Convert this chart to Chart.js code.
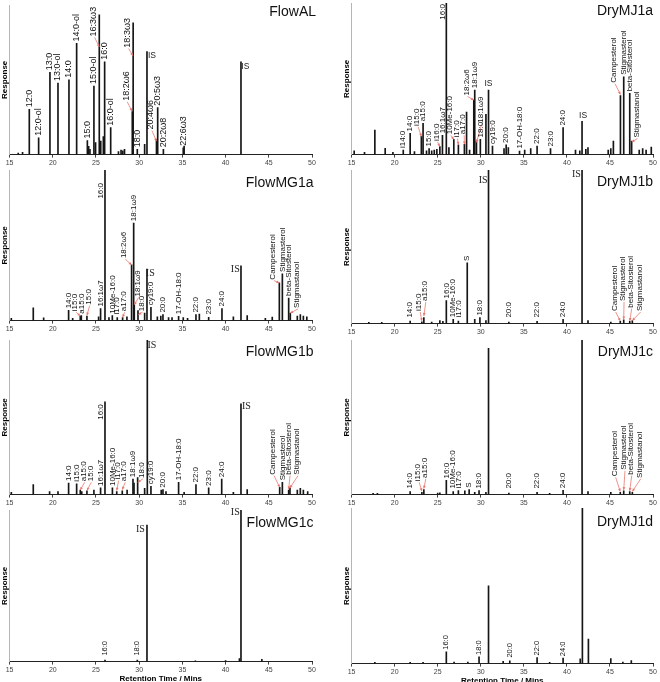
<!DOCTYPE html>
<html>
<head>
<meta charset="utf-8">
<script src="https://cdn.jsdelivr.net/npm/chart.js@4.4.1/dist/chart.umd.min.js"></script>
<style>
  html, body { margin: 0; padding: 0; background: #fff; width: 660px; height: 682px; overflow: hidden; }
  canvas { position: absolute; }
</style>
</head>
<body>
<script>
// Retention times (min) and responses (% of the panel height)
const alTimes = [16.0, 16.5, 17.28, 18.36, 19.67, 20.6, 21.87, 22.76, 24.0, 24.15, 24.3, 24.76, 24.95, 25.38, 25.55, 25.85, 26.0, 26.7, 27.6, 27.9, 28.1, 28.3, 29.2, 29.3, 29.78, 30.63, 30.9, 32.0, 32.14, 32.8, 35.1, 35.2, 41.78];
const alHeights = [1, 1.5, 30.3, 11.2, 55, 47.8, 50, 74.3, 9.4, 5.5, 3.5, 45.8, 8, 93.4, 9, 12, 62, 18, 2, 3, 2.5, 3.5, 28.7, 88, 3.5, 6.8, 68.9, 10, 31.4, 3.5, 4.5, 5.7, 62];

const mj1aTimes = [15.3, 16.5, 17.7, 18.9, 19.8, 21.0, 21.8, 22.3, 23.1, 23.3, 23.7, 24.0, 24.3, 24.6, 24.9, 25.25, 25.55, 26.0, 26.3, 26.87, 27.4, 28.1, 28.35, 28.7, 29.19, 29.3, 29.5, 29.95, 30.6, 30.9, 31.36, 32.7, 32.95, 33.2, 34.5, 35.1, 35.8, 36.54, 38.1, 39.56, 41.0, 41.5, 41.76, 42.2, 42.45, 44.8, 45.1, 45.4, 46.22, 46.6, 47.3, 47.52, 48.4, 48.8, 49.2, 49.8];
const mj1aHeights = [2.5, 1.5, 16.2, 4.2, 1.5, 3, 14, 2, 12, 20.6, 2.5, 4, 2.5, 3, 3.5, 5.3, 12.7, 100, 4.6, 10, 6.5, 6.8, 28, 3, 36, 42.5, 9, 10, 26.5, 42.5, 5.7, 4, 6.4, 4.6, 2.4, 3, 4, 5.7, 4, 17.8, 3, 2.5, 22, 3.5, 4.6, 3, 4, 9, 39, 51.3, 40.4, 9, 3, 4, 3, 5];

const mg1aTimes = [15.2, 17.74, 18.94, 21.83, 22.3, 23.18, 23.3, 23.95, 25.3, 25.53, 26.04, 26.5, 26.89, 27.46, 28.08, 28.58, 29.12, 29.36, 29.43, 29.86, 30.63, 30.9, 31.36, 32.1, 32.5, 32.75, 33.4, 33.8, 34.56, 35.1, 35.6, 36.57, 36.96, 38.04, 39.58, 40.9, 41.78, 42.5, 44.6, 45.4, 46.22, 46.57, 47.3, 47.49, 48.3, 48.65, 49.0, 49.4];
const mg1aHeights = [1.5, 8.4, 1.8, 6.8, 1.5, 3, 3.3, 3, 2.5, 8, 100, 2, 3.3, 2, 2, 2.5, 37, 64.7, 10.6, 6.6, 5, 34.2, 8.8, 2.5, 3, 4, 2, 2, 2.9, 2, 1.5, 4, 4.4, 2.2, 8, 2.5, 36.4, 3.3, 1.5, 2.4, 25, 31, 15, 5, 3, 4, 3, 2.5];

const mj1bTimes = [17.0, 18.5, 21.8, 23.16, 23.39, 24.3, 25.25, 25.6, 26.0, 26.8, 27.4, 28.43, 29.3, 29.9, 30.6, 30.9, 33.26, 36.54, 39.56, 41.76, 42.45, 45.1, 46.2, 46.6, 47.3, 47.6];
const mj1bHeights = [0.8, 0.8, 1.7, 1.2, 3.9, 1, 2, 1.5, 15, 2.8, 1.7, 39.5, 2.8, 3.9, 2, 100, 1, 1.5, 2.8, 100, 2, 1, 1.5, 2.5, 1.5, 2];

const mg1bTimes = [15.2, 17.74, 19.63, 20.6, 21.83, 22.76, 23.18, 23.35, 23.95, 24.76, 25.53, 26.04, 26.9, 27.4, 28.04, 28.6, 29.28, 29.4, 29.82, 30.63, 30.94, 31.36, 32.55, 32.75, 33.1, 34.56, 35.2, 36.57, 38.04, 39.55, 40.9, 41.78, 42.5, 46.26, 46.57, 47.3, 47.45, 48.3, 48.65, 49.0, 49.5];
const mg1bHeights = [1.5, 6.5, 2, 2, 7.5, 7, 3, 2, 2.5, 3, 4.3, 60, 4.3, 2, 2.5, 3, 10, 7.5, 11, 4, 100, 5.4, 3, 3.2, 2, 8, 1.5, 6.5, 4.3, 10, 1.5, 58.7, 3.2, 4.7, 8, 3, 4.3, 3, 4, 3, 2];

const mj1cTimes = [17.5, 18.0, 21.8, 23.16, 23.39, 25.0, 25.25, 26.0, 26.8, 27.4, 28.15, 28.65, 29.3, 29.8, 30.6, 30.9, 33.26, 36.54, 38.0, 39.56, 41.76, 42.45, 45.1, 46.2, 46.6, 47.3, 47.6];
const mj1cHeights = [0.8, 0.8, 2, 1.5, 3.2, 1, 1.2, 9.2, 2, 2.6, 2.5, 3.2, 1.5, 2.6, 1.5, 94.6, 1, 1.5, 0.8, 2.8, 100, 2, 1.5, 1.5, 2.5, 2, 1.5];

const mg1cTimes = [26.04, 29.78, 30.9, 36.5, 40.0, 41.6, 41.78, 44.2];
const mg1cHeights = [1, 1, 90, 0.5, 0.6, 2, 100, 1.5];

const mj1dTimes = [17.7, 21.8, 23.3, 26.0, 26.9, 28.5, 29.8, 30.9, 32.6, 33.37, 36.54, 38.0, 39.56, 41.55, 41.8, 42.5, 45.1, 46.5, 47.48];
const mj1dHeights = [0.8, 0.8, 0.8, 7.6, 1, 1, 4.3, 50, 1.5, 1.7, 3.9, 0.8, 3.5, 3, 100, 15.8, 3.2, 1, 2];

// Peak tags: [text, time] sits on the peak; [text, time, response] is placed there;
// [text, time, response, peakTime, peakResponse] also gets a red pointer to the peak
const alTags = [
  ['12:0', 17.28], ['12:0-ol', 18.36], ['13:0', 19.67], ['13:0-ol', 20.6], ['14:0', 21.87], ['14:0-ol', 22.76],
  ['15:0', 24.0], ['15:0-ol', 24.76], ['16:3ω3', 24.73, 79, 25.38, 72], ['16:0', 26.0], ['16:0-ol', 26.7],
  ['18:2ω6', 28.5, 36, 29.16, 29], ['18:3ω3', 28.66, 71.5, 29.28, 66], ['18:0', 29.78],
  ['IS', 31.48, 66.4], ['20:4ω6', 31.36, 16.7, 32.0, 9], ['20:5ω3', 32.14], ['20:2ω8', 32.8], ['22:6ω3', 35.15],
  ['IS', 42.29, 58.8]
];
const mj1aTags = [
  ['i14:0', 21.0], ['14:0', 21.8], ['i15:0', 22.62, 18.9, 23.1, 12], ['a15:0', 23.3], ['15:0', 24.0],
  ['i16:0', 24.86, 9, 25.25, 5.3], ['16:1ω7', 25.55], ['16:0', 25.64, 89],
  ['10Me-16:0', 26.41, 13.4, 26.87, 10], ['i17:0', 27.18, 11.2, 27.4, 6.5], ['a17:0', 27.96, 13.4, 28.1, 6.8],
  ['18:2ω6', 28.34, 39, 29.19, 36], ['18:1ω9', 29.3], ['18:1ω9', 30.0, 21, 29.5, 8], ['18:0', 29.95],
  ['IS', 30.9, 46.5], ['cy19:0', 31.36], ['20:0', 32.95], ['17-OH-18:0', 34.5], ['22:0', 36.54], ['23:0', 38.1],
  ['24:0', 39.56], ['IS', 41.88, 25.4], ['Campesterol', 45.47, 47.4, 46.22, 39.7], ['Stigmasterol', 46.6],
  ['beta-Sitosterol', 47.3], ['Stigmastanol', 48.07, 11.2, 47.52, 8.3]
];
const mg1aTags = [
  ['14:0', 21.83], ['i15:0', 22.6, 6.2, 23.18, 3], ['a15:0', 23.3], ['15:0', 24.15, 10.6, 23.95, 3.5],
  ['16:1ω7', 25.53], ['16:0', 25.5, 81], ['10Me-16:0', 26.89], ['i17:0', 27.46], ['a17:0', 28.2, 6.2, 28.08, 2.2],
  ['18:2ω6', 28.27, 41.5, 29.12, 37], ['18:1ω9', 29.36], ['18:1ω9', 29.82, 16, 29.43, 10.6], ['18:0', 30.28, 6.2, 29.9, 4],
  ['IS', 31.28, 31.6], ['cy19:0', 31.36], ['20:0', 32.75], ['17-OH-18:0', 34.56], ['22:0', 36.57], ['23:0', 38.04],
  ['24:0', 39.58], ['IS', 41.12, 34.2], ['Campesterol', 45.49, 27.2, 46.22, 25], ['Stigmasterol', 46.57],
  ['beta-Sitosterol', 47.3], ['Stigmastanol', 48.26, 8.4, 47.49, 5]
];
const mj1bTags = [
  ['14:0', 21.8], ['i15:0', 22.85, 8.2, 23.16, 1.7], ['a15:0', 23.5, 14.7, 23.39, 5], ['16:0', 26.0], ['10Me-16:0', 26.8],
  ['i17:0', 27.4], ['S', 28.43], ['18:0', 29.9], ['IS', 30.28, 93.5], ['20:0', 33.26], ['22:0', 36.54], ['24:0', 39.56],
  ['IS', 41.1, 97], ['Campesterol', 45.55, 8.2, 46.2, 1.7], ['Stigmasterol', 46.52, 14.7, 46.6, 2.8],
  ['beta-Sitosterol', 47.41, 10.4, 47.3, 1.7], ['Stigmastanol', 48.45, 8.2, 47.6, 2]
];
const mg1bTags = [
  ['14:0', 21.83], ['i15:0', 22.76], ['a15:0', 23.57, 8.6, 23.18, 3], ['15:0', 24.34, 8.6, 23.95, 2.6], ['16:1ω7', 25.53],
  ['16:0', 25.5, 48.4], ['10Me-16:0', 26.9], ['i17:0', 27.5, 9.7, 27.4, 2.6], ['a17:0', 28.27, 8.6, 28.04, 3.2],
  ['18:1ω9', 29.28], ['18:0', 30.32, 10.8, 29.82, 8], ['IS', 31.48, 96.8], ['cy19:0', 31.36], ['20:0', 32.75],
  ['17-OH-18:0', 34.56], ['22:0', 36.57], ['23:0', 38.04], ['24:0', 39.55], ['IS', 42.4, 57],
  ['Campesterol', 45.49, 12.9, 46.26, 4.7], ['Stigmasterol', 46.57], ['beta-Sitosterol', 47.34, 12.9, 47.3, 3.5],
  ['Stigmastanol', 48.26, 12.9, 47.45, 4.3]
];
const mj1cTags = [
  ['14:0', 21.8], ['i15:0', 22.73, 8.6, 23.16, 2.2], ['a15:0', 23.5, 10.8, 23.39, 3.9], ['16:0', 26.0], ['10Me-16:0', 26.8],
  ['i17:0', 27.4], ['S', 28.65], ['18:0', 29.8], ['20:0', 33.26], ['22:0', 36.54], ['24:0', 39.56],
  ['Campesterol', 45.55, 11.8, 46.2, 2], ['Stigmasterol', 46.63, 16, 46.6, 3], ['beta-Sitosterol', 47.41, 12.9, 47.3, 2.4],
  ['Stigmastanol', 48.45, 10.8, 47.6, 2]
];
const mg1cTags = [['16:0', 26.04], ['18:0', 29.78], ['IS', 30.13, 87.3], ['IS', 41.12, 98.5]];
const mj1dTags = [['16:0', 26.0], ['18:0', 29.8], ['20:0', 33.37], ['22:0', 36.54], ['24:0', 39.56]];

const xTicks = [15, 20, 25, 30, 35, 40, 45, 50];

// panel boxes on the page
const panels = [
  { name: 'FlowAL', times: alTimes, heights: alHeights, tags: alTags, left: 0, top: 3, h: 165, padL: 0, padR: 18, tagSize: 9, isFont: '8.5px "Liberation Sans"', dx: 4, dy: 7 },
  { name: 'DryMJ1a', times: mj1aTimes, heights: mj1aHeights, tags: mj1aTags, left: 330, top: 1, h: 167, padL: 12, padR: 7, tagSize: 8, isFont: '8.5px "Liberation Sans"', dx: 0, dy: 8 },
  { name: 'FlowMG1a', times: mg1aTimes, heights: mg1aHeights, tags: mg1aTags, left: 0, top: 168, h: 166, padL: 0, padR: 18, tagSize: 8, isFont: '10px "Liberation Serif"', dx: 1.5, dy: 12.7 },
  { name: 'DryMJ1b', times: mj1bTimes, heights: mj1bHeights, tags: mj1bTags, left: 330, top: 168, h: 169, padL: 12, padR: 7, tagSize: 8, isFont: '10px "Liberation Serif"', dx: 0, dy: 11.7 },
  { name: 'FlowMG1b', times: mg1bTimes, heights: mg1bHeights, tags: mg1bTags, left: 0, top: 338, h: 170, padL: 0, padR: 18, tagSize: 8, isFont: '10px "Liberation Serif"', dx: 1.5, dy: 12 },
  { name: 'DryMJ1c', times: mj1cTimes, heights: mj1cHeights, tags: mj1cTags, left: 330, top: 338, h: 170, padL: 12, padR: 7, tagSize: 8, isFont: '10px "Liberation Serif"', dx: 0, dy: 12 },
  { name: 'FlowMG1c', times: mg1cTimes, heights: mg1cHeights, tags: mg1cTags, left: 0, top: 508, h: 175, padL: 0, padR: 18, tagSize: 7.5, isFont: '10px "Liberation Serif"', dx: 1.5, dy: 13, xTitle: true },
  { name: 'DryMJ1d', times: mj1dTimes, heights: mj1dHeights, tags: mj1dTags, left: 330, top: 506, h: 179, padL: 12, padR: 7, tagSize: 7.5, isFont: '10px "Liberation Serif"', dx: 0, dy: 13.7, xTitle: true }
];

function nearestHeight(p, t) {
  let best = 0, d = Infinity;
  p.times.forEach((v, i) => {
    if (Math.abs(v - t) < d) { d = Math.abs(v - t); best = i; }
  });
  return p.heights[best];
}

function pointer(ctx, x0, y0, x1, y1) {
  ctx.strokeStyle = '#e8776f';
  ctx.fillStyle = '#e8776f';
  ctx.lineWidth = 0.8;
  ctx.beginPath();
  ctx.moveTo(x0, y0);
  ctx.lineTo(x1, y1);
  ctx.stroke();
  const a = Math.atan2(y1 - y0, x1 - x0);
  ctx.beginPath();
  ctx.moveTo(x1, y1);
  ctx.lineTo(x1 - 3.2 * Math.cos(a - 0.45), y1 - 3.2 * Math.sin(a - 0.45));
  ctx.lineTo(x1 - 3.2 * Math.cos(a + 0.45), y1 - 3.2 * Math.sin(a + 0.45));
  ctx.closePath();
  ctx.fill();
}

function tagPlugin(p) {
  return {
    id: 'peakTags',
    afterDatasetsDraw(chart) {
      const { ctx, chartArea: area, scales: { x, y } } = chart;
      ctx.save();
      // sample name
      ctx.font = '14px "Liberation Sans"';
      ctx.fillStyle = '#111';
      ctx.textAlign = 'right';
      ctx.textBaseline = 'middle';
      ctx.fillText(p.name, area.right + p.dx, area.top + p.dy);

      p.tags.forEach(([text, t, h, pt, ph]) => {
        if (text === 'IS') {
          ctx.font = p.isFont;
          ctx.fillStyle = '#222';
          ctx.textAlign = 'center';
          ctx.textBaseline = 'middle';
          const hh = h === undefined ? nearestHeight(p, t) + 4 : h;
          ctx.fillText(text, x.getPixelForValue(t), y.getPixelForValue(hh));
          return;
        }
        let bottom;
        if (h === undefined) {
          bottom = Math.min(y.getPixelForValue(nearestHeight(p, t)) - 2, y.getPixelForValue(0) - 6);
        } else {
          bottom = y.getPixelForValue(h);
        }
        const px = x.getPixelForValue(t);
        if (pt !== undefined) {
          pointer(ctx, px + 1, bottom + 1, x.getPixelForValue(pt), y.getPixelForValue(ph));
        }
        ctx.save();
        ctx.translate(px, bottom);
        ctx.rotate(-Math.PI / 2);
        ctx.font = p.tagSize + 'px "Liberation Sans"';
        ctx.fillStyle = '#111';
        ctx.textAlign = 'left';
        ctx.textBaseline = 'middle';
        ctx.fillText(text, 0, 0);
        ctx.restore();
      });
      ctx.restore();
    }
  };
}

panels.forEach(p => {
  const canvas = document.createElement('canvas');
  canvas.width = 330;
  canvas.height = p.h;
  canvas.style.left = p.left + 'px';
  canvas.style.top = p.top + 'px';
  document.body.appendChild(canvas);

  new Chart(canvas, {
    type: 'bar',
    data: {
      datasets: [{
        data: p.times.map((t, i) => ({ x: t, y: p.heights[i] })),
        backgroundColor: '#151515',
        borderWidth: 0,
        barThickness: 1,
        grouped: false
      }]
    },
    options: {
      responsive: false,
      animation: false,
      layout: { padding: { left: p.padL, right: p.padR, top: 2, bottom: 0 } },
      plugins: { legend: { display: false }, tooltip: { enabled: false } },
      scales: {
        x: {
          type: 'linear',
          min: 15,
          max: 50,
          offset: false,
          afterBuildTicks: axis => { axis.ticks = xTicks.map(v => ({ value: v })); },
          ticks: { font: { size: 7, family: 'Liberation Sans' }, color: '#444', padding: 1, maxRotation: 0 },
          grid: { drawOnChartArea: false, tickLength: 3, color: '#444', offset: false },
          border: { color: '#222' },
          title: {
            display: !!p.xTitle,
            text: 'Retention Time / Mins',
            font: { size: 8, weight: 'bold', family: 'Liberation Sans', lineHeight: 1 },
            color: '#000',
            padding: { top: 0, bottom: 0 }
          }
        },
        y: {
          min: 0,
          max: 100,
          ticks: { display: false },
          grid: { display: false, drawTicks: false },
          border: { color: '#b5b5b5' },
          title: {
            display: true,
            text: 'Response',
            font: { size: 8, weight: 'bold', family: 'Liberation Sans' },
            color: '#000',
            padding: 0
          }
        }
      }
    },
    plugins: [tagPlugin(p)]
  });
});
</script>
</body>
</html>
